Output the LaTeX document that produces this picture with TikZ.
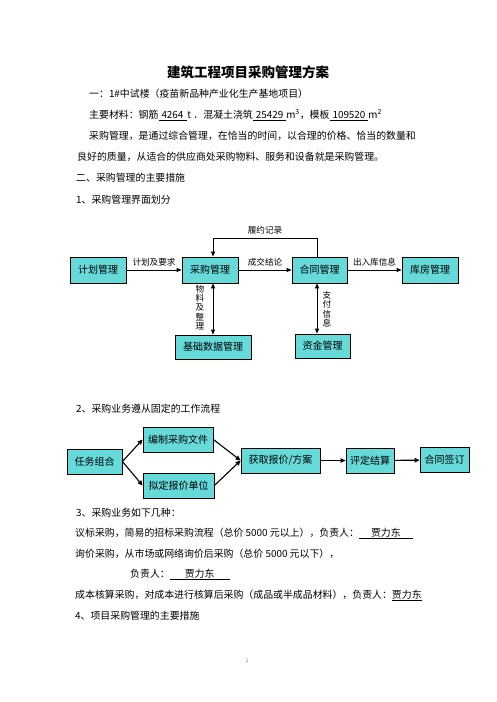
\documentclass[tikz,border=0pt]{standalone}
\usepackage{fontspec}
\setmainfont{Noto Sans CJK SC}
\usetikzlibrary{arrows.meta}
\definecolor{boxfill}{RGB}{102,217,217}
\newcommand\myul[1]{\setbox0\hbox{#1}\rlap{\rule[-2.2pt]{\wd0}{0.7pt}}\box0}
\tikzset{
  txt/.style={anchor=base west,inner sep=0pt,font=\fontsize{9.9}{12}\selectfont},
  box/.style={draw=black,line width=0.8pt,fill=boxfill,inner sep=0pt,font=\fontsize{10}{12}\selectfont},
  lbl/.style={inner sep=0pt,font=\fontsize{8.6}{10}\selectfont},
  vlbl/.style={inner sep=0pt,align=center,text width=9pt,font=\fontsize{8.6}{9.3}\selectfont},
  arr/.style={line width=0.8pt,-{Triangle[length=5pt,width=4pt]}},
  darr/.style={line width=0.8pt,{Triangle[length=5pt,width=4pt]}-{Triangle[length=5pt,width=4pt]}},
  arrb/.style={line width=1.1pt,-{Triangle[length=5pt,width=4.5pt]}}
}
\begin{document}
\begin{tikzpicture}[x=1pt,y=-1pt]
\useasboundingbox (0,0) rectangle (496,702);
\fill[white] (0,0) rectangle (496,702);

% text lines
\node[anchor=base,inner sep=0pt,font=\fontsize{13.5}{16}\selectfont\bfseries] (title) at (248,77) {建筑工程项目采购管理方案};
\node[txt] (l1) at (89,97) {一：1\#中试楼（疫苗新品种产业化生产基地项目）};
\node[txt] (l2) at (89,118) {主要材料：钢筋\myul{\hspace{3pt}4264\hspace{4pt}} t ．混凝土浇筑\myul{\hspace{3pt}25429\hspace{3pt}} m\textsuperscript{3}，模板\myul{\hspace{3pt}109520\hspace{3pt}} m\textsuperscript{2}};
\node[txt] (l3) at (89,139) {采购管理，是通过综合管理，在恰当的时间，以合理的价格、恰当的数量和};
\node[txt] (l4) at (77,160) {良好的质量，从适合的供应商处采购物料、服务和设备就是采购管理。};
\node[txt] (l5) at (76,181) {二、采购管理的主要措施};
\node[txt] (l6) at (76,203) {1、采购管理界面划分};
\node[txt] (l7) at (76,412) {2、采购业务遵从固定的工作流程};
\node[txt] (l8) at (76,516) {3、采购业务如下几种：};
\node[txt] (l9) at (75,536) {议标采购，简易的招标采购流程（总价 5000 元以上），负责人：\myul{\hspace{12pt}贾力东\hspace{12pt}}};
\node[txt] (l10) at (75,557) {询价采购，从市场或网络询价后采购（总价 5000 元以下），};
\node[txt] (l11) at (130,577) {负责人：\myul{\hspace{15pt}贾力东\hspace{15pt}}};
\node[txt] (l12) at (75,598) {成本核算采购，对成本进行核算后采购（成品或半成品材料），负责人：\myul{贾力东}};
\node[txt] (l13) at (75,619) {4、项目采购管理的主要措施};
\node[inner sep=0pt,font=\fontsize{5}{6}\selectfont,text=black!60] (pg) at (247,661) {1};

% diagram 1
\node[box,minimum width=56pt,minimum height=26pt] (jh) at (98,270) {计划管理};
\node[box,minimum width=56pt,minimum height=26pt] (cg) at (210,270) {采购管理};
\node[box,minimum width=55pt,minimum height=26pt] (ht) at (319.5,270) {合同管理};
\node[box,minimum width=56pt,minimum height=26pt] (kf) at (430,270) {库房管理};
\node[box,minimum width=76pt,minimum height=24pt] (jc) at (213,347) {基础数据管理};
\node[box,minimum width=55pt,minimum height=24pt] (zj) at (322.5,346) {资金管理};
\coordinate (vx1) at (213,0);
\coordinate (vx2) at (317,0);
\coordinate (fb) at (213,238);

\draw[arr] (jh) -- node[lbl,above=3.5pt] {计划及要求} (cg);
\draw[arr] (cg) -- node[lbl,above=3.5pt] {成交结论} (ht);
\draw[arr] (ht) -- node[lbl,above=3.5pt] {出入库信息} (kf);
\draw[arr] (ht.north -| vx2) |- (fb) -- (cg.north -| vx1);
\node[lbl] (lyjl) at (265,230) {履约记录};
\draw[darr] (cg.south -| vx1) -- (jc.north -| vx1);
\draw[darr] (ht.south -| vx2) -- (zj.north -| vx2);
\node[vlbl] (wl) at (200,307.5) {物\\料\\及\\整\\理};
\node[vlbl] (zf) at (327,309) {支\\付\\信\\息};

% diagram 2
\node[box,minimum width=55pt,minimum height=25pt] (rw) at (94.5,461.5) {任务组合};
\node[box,minimum width=70pt,minimum height=25pt] (bz) at (178,439.5) {编制采购文件};
\node[box,minimum width=71pt,minimum height=25pt] (nd) at (178.5,485.5) {拟定报价单位};
\node[box,minimum width=79pt,minimum height=25pt] (hq) at (280.5,460.5) {获取报价/方案};
\node[box,minimum width=48pt,minimum height=25pt] (pd) at (370,460.5) {评定结算};
\node[box,minimum width=49pt,minimum height=25pt] (qd) at (444.5,460) {合同签订};

\draw[arrb] (rw.east) -- (bz.west);
\draw[arrb] (rw.east) -- (nd.west);
\draw[arrb] (bz.east) -- (hq.west);
\draw[arrb] (nd.east) -- (hq.west);
\draw[arrb] (hq) -- (pd);
\draw[arrb] (pd) -- (qd);
\end{tikzpicture}
\end{document}
